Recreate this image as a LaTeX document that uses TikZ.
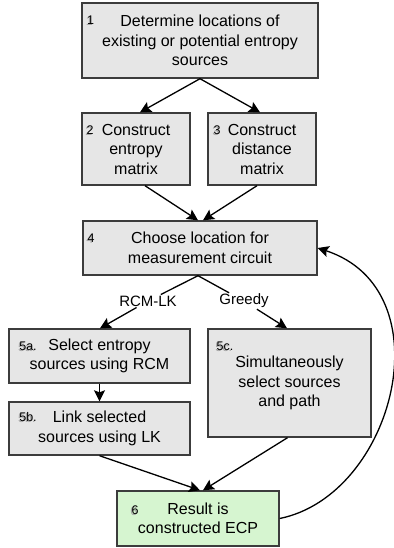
\documentclass[tikz,border=0pt]{standalone}
\usepackage{fontspec}
\setmainfont{Liberation Sans}
\usetikzlibrary{arrows.meta}
\definecolor{boxgray}{HTML}{E6E6E6}
\definecolor{boxline}{HTML}{3C3C3C}
\definecolor{boxgreen}{HTML}{D6F5D0}
\begin{document}
\begin{tikzpicture}[x=1pt,y=-1pt,
  box/.style={draw=boxline, line width=1.4pt, fill=boxgray, align=center,
    font=\fontsize{16}{19.5}\selectfont, inner sep=0pt},
  num/.style={font=\fontsize{12.5}{14}\selectfont, inner sep=0pt},
  numshadow/.style={num, text=black!35},
  lab/.style={font=\fontsize{15}{18}\selectfont, inner sep=1pt},
  conn/.style={-{Stealth[length=11pt,width=11pt,inset=2pt]}, line width=1.3pt},
  plain/.style={line width=1.3pt}]
\useasboundingbox (0,0) rectangle (393,548);

\node[box, minimum width=236pt, minimum height=75pt] (b1) at (200,40.5)
  {Determine locations of\\existing or potential entropy\\sources};
\node[box, minimum width=108pt, minimum height=72pt] (b2) at (136,149)
  {Construct\\entropy\\matrix};
\node[box, minimum width=108pt, minimum height=72pt] (b3) at (262,149)
  {Construct\\distance\\matrix};
\node[box, minimum width=234pt, minimum height=54pt] (b4) at (200,248)
  {Choose location for\\measurement circuit};
\node[box, minimum width=181pt, minimum height=54pt] (b5a) at (99.5,356)
  {Select entropy\\sources using RCM};
\node[box, minimum width=181pt, minimum height=53pt] (b5b) at (99.5,428.5)
  {Link selected\\sources using LK};
\node[box, minimum width=163pt, minimum height=108pt] (b5c) at (289.5,383)
  {Simultaneously\\select sources\\and path};
\node[box, fill=boxgreen, minimum width=162pt, minimum height=55pt] (b6) at (198,518.5)
  {Result is\\constructed ECP};

\foreach \t/\x/\y/\n in {1/90.5/20/n1, 2/90/130/n2, 3/217/130/n3, 4/91/238/n4,
    5a./28/346/n5a, 5b./28/417/n5b, 5c./225/346/n5c, 6/135/510/n6}{
  \node[numshadow] (\n s) at (\x-1.2,\y+1) {\t};
  \node[num] (\n) at (\x,\y) {\t};
}

\node[lab] (l1) at (148,301) {RCM-LK};
\node[lab] (l2) at (244,301) {Greedy};

\draw[conn] (b1.south) -- ([xshift=4pt]b2.north);
\draw[conn] (b1.south) -- ([xshift=-2pt]b3.north);
\draw[conn] ([xshift=9pt]b2.south) -- ([xshift=-2pt]b4.north);
\draw[conn] ([xshift=-5pt]b3.south) -- ([xshift=3pt]b4.north);
\draw[plain] ([xshift=-2pt]b4.south) -- (l1);
\draw[conn] (l1) -- ([xshift=0.5pt]b5a.north);
\draw[plain] ([xshift=-2pt]b4.south) -- (l2);
\draw[conn] (l2) -- ([xshift=-2.5pt]b5c.north);
\draw[conn] (b5a.south) -- (b5b.north);
\draw[conn] (b5b.south) -- ([xshift=2pt]b6.north);
\draw[conn] ([xshift=-2pt]b5c.south) -- ([xshift=5pt]b6.north);
\draw[conn] (b6.east) .. controls (395,495) and (446,290) .. (b4.east);
\end{tikzpicture}
\end{document}
